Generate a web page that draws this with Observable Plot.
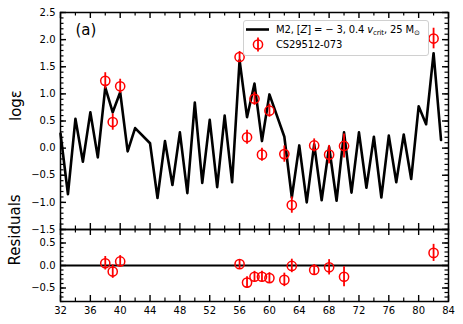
<!DOCTYPE html>
<html><head><meta charset="utf-8">
<script src="https://cdn.jsdelivr.net/npm/d3@7"></script>
<script src="https://cdn.jsdelivr.net/npm/@observablehq/plot@0.6"></script>
<style>
body{margin:0;background:#fff;}
#c{position:relative;width:463px;height:324px;font-family:"DejaVu Sans",sans-serif;overflow:hidden;}
#c > svg{position:absolute;left:0;overflow:visible;}
#legend{position:absolute;left:243px;top:20px;width:184px;height:34px;border:1px solid #d0d0d0;border-radius:3px;background:rgba(255,255,255,0.85);font-size:10px;color:#000;}
#legend .row{position:absolute;left:0;height:15px;width:100%;}
#legend .txt{position:absolute;left:32px;top:1px;white-space:nowrap;letter-spacing:-0.15px;line-height:13px;}
#legend sub{font-size:7px;vertical-align:-2px;line-height:0;}
</style>
</head><body>
<div id="c"></div>
<script>
// Model: M2, [Z] = -3, 0.4 v_crit, 25 Msun
const modelZ = [32,33,34,35,36,37,38,39,40,41,42,44,45,46,47,48,49,50,51,52,53,54,55,56,57,58,59,60,62,63,64,65,66,67,68,69,70,71,72,73,74,75,76,77,78,79,80,81,82,83];
const modelLogEps = [0.27,-0.85,0.54,-0.25,0.66,-0.17,1.12,0.66,1.03,-0.06,0.37,0.09,-0.92,0.13,-0.68,0.29,-0.83,0.84,-0.64,0.52,-0.72,0.60,-0.63,1.62,0.57,1.19,0.13,0.99,0.21,-0.91,0.05,-1.00,0.07,-0.96,0.02,-0.97,0.29,-0.82,0.29,-0.73,0.21,-0.91,0.23,-0.63,0.25,-0.57,0.77,0.44,1.75,0.15];
// Observations: CS29512-073
const obsZ = [38,39,40,56,57,58,59,60,62,63,66,68,70,82];
const obsLogEps = [1.24,0.48,1.14,1.68,0.20,0.91,-0.12,0.69,-0.11,-1.05,0.05,-0.12,0.04,2.02];
const obsErr = [0.15,0.15,0.13,0.10,0.13,0.12,0.12,0.12,0.15,0.15,0.12,0.17,0.22,0.19];
const residuals = [0.05,-0.135,0.09,0.03,-0.38,-0.25,-0.25,-0.28,-0.32,-0.01,-0.10,-0.04,-0.25,0.28];
const xMajorTicks = [32,36,40,44,48,52,56,60,64,68,72,76,80,84];
const xMinorTicks = [34,38,42,46,50,54,58,62,66,70,74,78,82];
const topYTicks = [-1.5,-1.0,-0.5,0.0,0.5,1.0,1.5,2.0,2.5];
const botYTicks = [-0.5,0.0,0.5];

const model = modelZ.map((z,i)=>({z, v: modelLogEps[i]}));
const obs = obsZ.map((z,i)=>({z, v: obsLogEps[i], e: obsErr[i], r: residuals[i]}));

const W = 463, ML = 60, MR = 15;
const fmt = d3.format(".1f");
const range = (a,b,s)=>{const o=[];for(let k=Math.round(a/s);k<=Math.round(b/s);k++)o.push(+(k*s).toFixed(2));return o;};

function tickMarks(frameW, frameH, yMajor, yMinor){
  const MAJ = 6, MIN = 3.5;
  return [
    Plot.ruleX(xMinorTicks, {x: d=>d, insetTop: frameH-MIN, stroke:"black", strokeWidth:1.2}),
    Plot.ruleX(xMinorTicks, {x: d=>d, insetBottom: frameH-MIN, stroke:"black", strokeWidth:1.2}),
    Plot.ruleX(xMajorTicks, {x: d=>d, insetTop: frameH-MAJ, stroke:"black", strokeWidth:1.4}),
    Plot.ruleX(xMajorTicks, {x: d=>d, insetBottom: frameH-MAJ, stroke:"black", strokeWidth:1.4}),
    Plot.ruleY(yMinor, {y: d=>d, insetRight: frameW-MIN, stroke:"black", strokeWidth:1.2}),
    Plot.ruleY(yMinor, {y: d=>d, insetLeft: frameW-MIN, stroke:"black", strokeWidth:1.2}),
    Plot.ruleY(yMajor, {y: d=>d, insetRight: frameW-MAJ, stroke:"black", strokeWidth:1.4}),
    Plot.ruleY(yMajor, {y: d=>d, insetLeft: frameW-MAJ, stroke:"black", strokeWidth:1.4})
  ];
}

// Top panel
const topH = 232, topMT = 12, topMB = 3;
const topFrameH = topH - topMT - topMB, frameW = W - ML - MR;
const topPlot = Plot.plot({
  width: W, height: topH, marginTop: topMT, marginBottom: topMB, marginLeft: ML, marginRight: MR,
  style: {fontFamily: "DejaVu Sans", fontSize: "10px", background: "transparent", overflow: "visible"},
  x: {domain: [32, 84], axis: null},
  y: {domain: [-1.5, 2.5], axis: null},
  marks: [
    Plot.axisY({ticks: topYTicks, tickSize: 0, tickPadding: 5, tickFormat: fmt, fontSize: 10, label: null}),
    Plot.lineY(model, {x: "z", y: "v", stroke: "black", strokeWidth: 2.6}),
    Plot.ruleX(obs, {x: "z", y1: d=>d.v-d.e, y2: d=>d.v+d.e, stroke: "red", strokeWidth: 1.8}),
    Plot.dot(obs, {x: "z", y: "v", r: 4.6, stroke: "red", strokeWidth: 1.5, fill: "none"}),
    ...tickMarks(frameW, topFrameH, topYTicks, range(-1.5, 2.5, 0.1)),
    Plot.frame({stroke: "black", strokeWidth: 1.5}),
    Plot.text(["log\u03B5"], {text: d=>d, frameAnchor: "left", dx: -44, rotate: -90, fontSize: 15}),
    Plot.text(["(a)"], {text: d=>d, frameAnchor: "top-left", textAnchor: "start", lineAnchor: "middle", dx: 15, dy: 18, fontSize: 15})
  ]
});
topPlot.style.top = "0px";

// Bottom panel
const botTop = 224, botH = 100, botMT = 5, botMB = 23;
const botFrameH = botH - botMT - botMB;
const botPlot = Plot.plot({
  width: W, height: botH, marginTop: botMT, marginBottom: botMB, marginLeft: ML, marginRight: MR,
  style: {fontFamily: "DejaVu Sans", fontSize: "10px", background: "transparent", overflow: "visible"},
  x: {domain: [32, 84], axis: null},
  y: {domain: [-0.8, 0.8], axis: null},
  marks: [
    Plot.axisY({ticks: botYTicks, tickSize: 0, tickPadding: 5, tickFormat: fmt, fontSize: 10, label: null}),
    Plot.axisX({ticks: xMajorTicks, tickSize: 0, tickPadding: 5, tickFormat: d=>String(d), fontSize: 10, label: null}),
    Plot.ruleY([0], {stroke: "black", strokeWidth: 1.8}),
    Plot.ruleX(obs, {x: "z", y1: d=>d.r-d.e, y2: d=>d.r+d.e, stroke: "red", strokeWidth: 1.8}),
    Plot.dot(obs, {x: "z", y: "r", r: 4.6, stroke: "red", strokeWidth: 1.5, fill: "none"}),
    ...tickMarks(frameW, botFrameH, botYTicks, range(-0.8, 0.8, 0.1)),
    Plot.frame({stroke: "black", strokeWidth: 1.5}),
    Plot.text(["Residuals"], {text: d=>d, frameAnchor: "left", dx: -45, rotate: -90, fontSize: 15})
  ]
});
botPlot.style.top = botTop + "px";

const c = document.getElementById("c");
c.appendChild(botPlot);
c.appendChild(topPlot);

// Legend
const lg = document.createElement("div");
lg.id = "legend";
lg.innerHTML = `
<div class="row" style="top:1px">
  <svg width="30" height="15" style="position:absolute;left:0;top:0"><line x1="2" x2="25" y1="7.5" y2="7.5" stroke="black" stroke-width="2.6"/></svg>
  <span class="txt">M2, [<i>Z</i>] = \u2212 3, 0.4 <i>v</i><sub>crit</sub>, 25 M<sub>\u2299</sub></span>
</div>
<div class="row" style="top:16px">
  <svg width="30" height="15" style="position:absolute;left:0;top:0"><line x1="14" x2="14" y1="0.5" y2="14.5" stroke="red" stroke-width="1.8"/><circle cx="14" cy="7.5" r="4.6" fill="none" stroke="red" stroke-width="1.5"/></svg>
  <span class="txt">CS29512-073</span>
</div>`;
c.appendChild(lg);
</script>
</body></html>
